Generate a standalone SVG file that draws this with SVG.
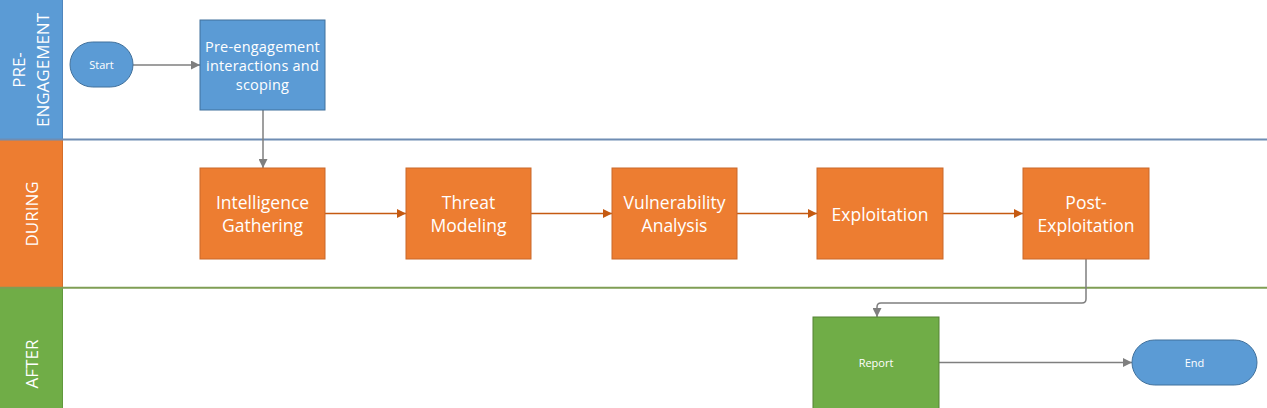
<svg xmlns="http://www.w3.org/2000/svg" width="1267" height="408" viewBox="0 0 1267 408">
<style>
  text { font-family: "Open Sans", "Liberation Sans", sans-serif; fill: #FFFFFF; text-anchor: middle; }
  .lane { font-size: 17px; }
  .big { font-size: 17.5px; }
  .mid { font-size: 14.5px; letter-spacing: 0.2px; }
  .small { font-size: 11px; }
  .blue { fill: #5B9BD5; stroke: #41719C; stroke-width: 1; }
  .orange { fill: #ED7D31; stroke: #C9692A; stroke-width: 1; }
  .green { fill: #70AD47; stroke: #548235; stroke-width: 1; }
  .gray { fill: none; stroke: #7F7F7F; stroke-width: 1.5; }
  .org { fill: none; stroke: #C55A11; stroke-width: 1.5; }
</style>
<defs>
  <marker id="ag" viewBox="0 0 10 10" refX="10" refY="5" markerWidth="10" markerHeight="9" markerUnits="userSpaceOnUse" orient="auto">
    <path d="M0,0 L10,5 L0,10 z" fill="#7F7F7F"/>
  </marker>
  <marker id="ao" viewBox="0 0 10 10" refX="10" refY="5" markerWidth="10" markerHeight="9" markerUnits="userSpaceOnUse" orient="auto">
    <path d="M0,0 L10,5 L0,10 z" fill="#C55A11"/>
  </marker>
</defs>
<rect width="1267" height="408" fill="#FFFFFF"/>

<g id="lane-pre">
  <rect x="0" y="0" width="63" height="139" fill="#5B9BD5"/>
  <line x1="62.5" y1="0" x2="62.5" y2="139" stroke="#4F86BE" stroke-width="1"/>
  <text class="lane" transform="translate(31.5,70) rotate(-90)"><tspan x="0" y="-6.5">PRE-</tspan><tspan x="0" y="17.5">ENGAGEMENT</tspan></text>
</g>
<g id="lane-during">
  <rect x="0" y="140" width="63" height="148" fill="#ED7D31"/>
  <line x1="62.5" y1="140" x2="62.5" y2="288" stroke="#D46E2A" stroke-width="1"/>
  <text class="lane" transform="translate(31.5,214) rotate(-90)" y="6">DURING</text>
</g>
<g id="lane-after">
  <rect x="0" y="288" width="63" height="120" fill="#70AD47"/>
  <line x1="62.5" y1="288" x2="62.5" y2="408" stroke="#61993D" stroke-width="1"/>
  <text class="lane" transform="translate(31.5,364) rotate(-90)" y="6">AFTER</text>
</g>
<g id="separators">
  <line x1="0" y1="139.5" x2="1267" y2="139.5" stroke="#6F8DB3" stroke-width="2"/>
  <line x1="0" y1="287.7" x2="1267" y2="287.7" stroke="#7F9E55" stroke-width="2"/>
</g>

<g id="connectors">
  <line class="gray" x1="133" y1="65" x2="200" y2="65" marker-end="url(#ag)"/>
  <line class="gray" x1="263" y1="110" x2="263" y2="168" marker-end="url(#ag)"/>
  <line class="org" x1="325" y1="213.5" x2="406" y2="213.5" marker-end="url(#ao)"/>
  <line class="org" x1="531" y1="213.5" x2="612" y2="213.5" marker-end="url(#ao)"/>
  <line class="org" x1="737" y1="213.5" x2="817" y2="213.5" marker-end="url(#ao)"/>
  <line class="org" x1="943" y1="213.5" x2="1023" y2="213.5" marker-end="url(#ao)"/>
  <path class="gray" d="M1086,259 V299 Q1086,303 1082,303 H881 Q877,303 877,307 V317" marker-end="url(#ag)"/>
  <line class="gray" x1="939" y1="362.5" x2="1132" y2="362.5" marker-end="url(#ag)"/>
</g>

<g id="start">
  <rect class="blue" x="70" y="42" width="63" height="45" rx="22.5" ry="22.5"/>
  <text class="small" x="101.5" y="69">Start</text>
</g>
<g id="pre-engagement">
  <rect class="blue" x="200" y="20" width="125" height="90"/>
  <text class="mid" x="262.5"><tspan x="262.5" y="51.5">Pre-engagement</tspan><tspan x="262.5" y="71">interactions and</tspan><tspan x="262.5" y="90">scoping</tspan></text>
</g>
<g id="intelligence">
  <rect class="orange" x="200" y="168" width="125" height="91"/>
  <text class="big" x="262.5"><tspan x="262.5" y="209">Intelligence</tspan><tspan x="262.5" y="232">Gathering</tspan></text>
</g>
<g id="threat">
  <rect class="orange" x="406" y="168" width="125" height="91"/>
  <text class="big" x="468.5"><tspan x="468.5" y="209">Threat</tspan><tspan x="468.5" y="232">Modeling</tspan></text>
</g>
<g id="vulnerability">
  <rect class="orange" x="612" y="168" width="125" height="91"/>
  <text class="big" x="674.5"><tspan x="674.5" y="209">Vulnerability</tspan><tspan x="674.5" y="232">Analysis</tspan></text>
</g>
<g id="exploitation">
  <rect class="orange" x="817" y="168" width="126" height="91"/>
  <text class="big" x="880" y="221">Exploitation</text>
</g>
<g id="post-exploitation">
  <rect class="orange" x="1023" y="168" width="126" height="91"/>
  <text class="big" x="1086"><tspan x="1086" y="209">Post-</tspan><tspan x="1086" y="232">Exploitation</tspan></text>
</g>
<g id="report">
  <rect class="green" x="813" y="317" width="126" height="93"/>
  <text class="small" x="876" y="367">Report</text>
</g>
<g id="end">
  <rect class="blue" x="1132" y="340" width="125" height="45" rx="22.5" ry="22.5"/>
  <text class="small" x="1194.5" y="366.5">End</text>
</g>
</svg>
